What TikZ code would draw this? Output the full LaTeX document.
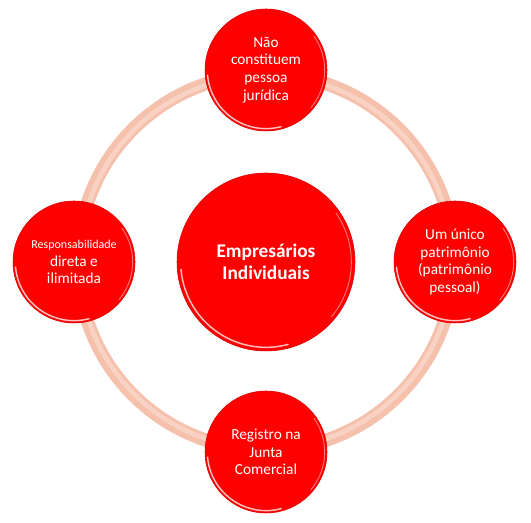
\documentclass[tikz,border=0pt]{standalone}
\usepackage{fontspec}
\setmainfont{Carlito}
\definecolor{ballred}{RGB}{255,0,0}
\definecolor{ringc}{RGB}{245,192,172}
\definecolor{ringhi}{RGB}{249,210,195}
\begin{document}
\begin{tikzpicture}[x=0.75pt,y=0.75pt]
\tikzset{
  ball/.style={circle, fill=ballred, text=white, align=center, inner sep=0pt,
    minimum size=91.5pt, font=\fontsize{11.5}{13.3}\selectfont},
  hub/.style={ball, minimum size=133.5pt, font=\bfseries\fontsize{14.5}{16.5}\selectfont},
  shine/.style={white, line width=1.1pt, opacity=0.75, line cap=round},
  rim/.style={draw={rgb,255:red,215;green,0;blue,0}, line width=0.4pt}
}
\useasboundingbox (0,0) rectangle (531,523);
\coordinate (o) at (266,261);
% ring
\draw[ringc, line width=10pt] (o) circle[radius=141pt];
\draw[ringhi, line width=3.5pt] (o) circle[radius=140pt];
% nodes
\node[hub, rim] (c) at (o) {Empresários\\Individuais};
\node[ball, rim] (t) at (266,453) {Não\\constituem\\pessoa\\jurídica};
\node[ball, rim] (l) at (74,261) {{\fontsize{9}{13}\selectfont Responsabilidade}\\direta e\\ilimitada};
\node[ball, rim] (r) at (455,261) {Um único\\patrimônio\\(patrimônio\\pessoal)};
\node[ball, rim] (b) at (266,71) {Registro na\\Junta\\Comercial};
% highlights
\foreach \n/\rr in {t/44, l/44, r/44, b/44, c/64}{
  \draw[shine] ([shift={(185:\rr pt)}]\n.center) arc[start angle=185, end angle=285, radius=\rr pt];
  \draw[shine, opacity=0.45, line width=0.7pt] ([shift={(-40:\rr pt)}]\n.center) arc[start angle=-40, end angle=35, radius=\rr pt];
}
\end{tikzpicture}
\end{document}
